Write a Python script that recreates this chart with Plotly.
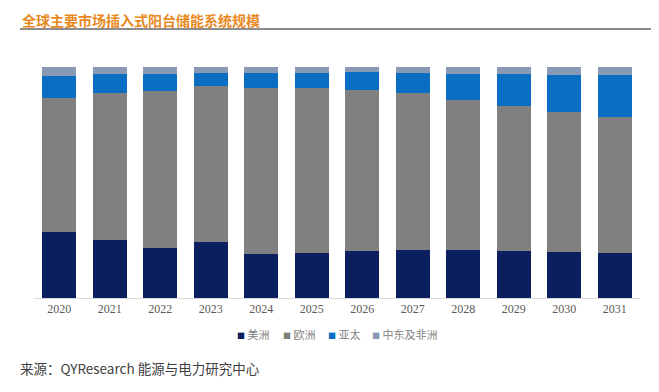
import plotly.graph_objects as go

years = ["2020", "2021", "2022", "2023", "2024", "2025", "2026", "2027", "2028", "2029", "2030", "2031"]
americas = [28.7, 25.2, 21.5, 24.1, 19.2, 19.5, 20.3, 20.9, 20.9, 20.3, 19.7, 19.5]
europe = [57.7, 63.5, 68.2, 67.5, 71.7, 71.4, 69.9, 67.8, 64.9, 62.8, 60.9, 58.8]
apac = [9.8, 8.1, 7.1, 5.8, 6.5, 6.5, 7.5, 8.7, 11.3, 13.7, 15.9, 18.2]
mea = [3.8, 3.2, 3.2, 2.6, 2.6, 2.6, 2.3, 2.6, 2.9, 3.2, 3.5, 3.5]

series_names = ["美洲", "欧洲", "亚太", "中东及非洲"]
series_values = [americas, europe, apac, mea]
colors = ["#0B1F5E", "#808080", "#0A6FC2", "#8A9AB5"]

fig = go.Figure()
for name, vals, c in zip(series_names, series_values, colors):
    fig.add_trace(go.Bar(x=years, y=vals, name=name, marker=dict(color=c, line=dict(width=0)),
                         hoverinfo="skip", showlegend=False))

OFF = 8  # page body margin
W, H = 659 - OFF, 392 - OFF
# plot area in page pixels
PX0, PX1, PY0, PY1 = 34, 640, 67, 298.5
L = PX0 - OFF
R = 659 - PX1
T = PY0 - OFF
B = 392 - PY1
pw = PX1 - PX0
ph = PY1 - PY0

def px(x):
    return (x - PX0) / pw

def py(y):
    return (PY1 - y) / ph

annotations = [
    dict(text="<b>全球主要市场插入式阳台储能系统规模</b>", xref="paper", yref="paper",
         x=px(20), y=py(OFF), xanchor="left", yanchor="top", showarrow=False,
         font=dict(family="Noto Sans CJK SC", size=14, color="#E8891E")),
    dict(text="来源：QYResearch 能源与电力研究中心", xref="paper", yref="paper",
         x=px(18), y=py(369), xanchor="left", yanchor="middle", showarrow=False,
         font=dict(family="Noto Sans CJK SC", size=13.5, color="#404040")),
]

# legend built as text entries with coloured squares
legend_x = [235, 281, 326, 370]
for name, c, lx in zip(series_names, colors, legend_x):
    annotations.append(dict(
        text=f"<span style='color:{c};font-size:8px'>■</span> {name}",
        xref="paper", yref="paper", x=px(lx), y=py(335), xanchor="left", yanchor="middle",
        showarrow=False, font=dict(family="Noto Sans CJK SC", size=11, color="#7F7F7F")))

fig.update_layout(
    width=W, height=H,
    barmode="stack", bargap=0.32,
    margin=dict(l=L, r=R, t=T, b=B, pad=0),
    paper_bgcolor="white", plot_bgcolor="white",
    showlegend=False,
    xaxis=dict(type="category", showgrid=False, zeroline=False, showline=True,
               linecolor="#D9D9D9", linewidth=1, ticks="",
               tickfont=dict(family="Liberation Serif", size=12, color="#595959")),
    yaxis=dict(range=[0, 100], visible=False, showgrid=False),
    annotations=annotations,
    shapes=[
        dict(type="line", xref="paper", yref="paper", x0=px(20), x1=px(659), y0=py(29), y1=py(29),
             line=dict(color="#8C8C8C", width=2)),
    ],
)

fig.write_html("out.html")
